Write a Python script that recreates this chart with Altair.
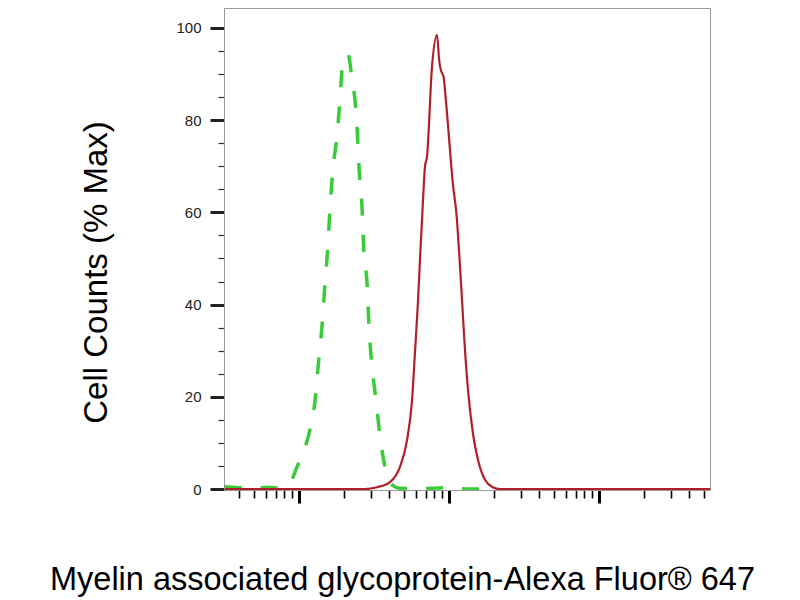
import altair as alt
import pandas as pd

# fluorescence intensity (log axis) and % of max
green_x = [32, 40, 50, 61, 75, 87, 97, 110, 118, 128, 134, 142, 149, 156, 161,
           169, 179, 188, 194, 205, 212, 226, 236, 244, 251, 263, 270, 284, 293,
           307, 326, 347, 374, 404, 471, 641, 940, 1380, 2028]
green_y = [0.5, 0.3, 0.1, 0.4, 0.2, 1.3, 4.8, 9.1, 12.8, 19.3, 26.5, 35, 44.7, 53, 61,
           70, 76.4, 85, 91.3, 93.5, 94.3, 88.7, 84.4, 78, 70, 61, 52, 44.7, 35,
           26.5, 19.3, 11.3, 4.8, 1.3, 0.2, 0.1, 0.3, 0, 0.2]

red_x = [32, 276, 331, 404, 471, 525, 567, 594, 622, 641, 671, 692, 713, 770, 832,
         860, 880, 905, 920, 955, 1063, 1130, 1166, 1221, 1279, 1339, 1445, 1561,
         1738, 1963, 2188, 55000]
red_y = [0, 0, 0.4, 1.5, 4.8, 10.6, 19.3, 30, 41, 50, 62.7, 70, 72, 91.5, 98.5,
         93, 91, 90, 89.4, 84, 66, 58.4, 51.8, 41, 30, 21.5, 12, 6.3,
         2, 0.4, 0, 0]

minor_x = [40, 50, 60, 70, 80, 90, 200, 300, 400, 500, 600, 700, 800, 900,
           2000, 3000, 4000, 5000, 6000, 7000, 8000, 9000, 20000, 30000, 40000, 50000]
major_x = [100, 1000, 10000]
minor_y = [0, 5, 10, 15, 20, 25, 30, 35, 40, 45, 50, 55, 60, 65, 70, 75, 80, 85, 90, 95, 100]
major_y = [0, 20, 40, 60, 80, 100]

green_df = pd.DataFrame({"intensity": green_x, "pct": green_y})
red_df = pd.DataFrame({"intensity": red_x, "pct": red_y})

x_scale = alt.Scale(type="log", domain=[31.6, 55000], nice=False)
y_scale = alt.Scale(domain=[-0.2, 104.3], nice=False, zero=False)

FONT = "Liberation Sans"

green = alt.Chart(green_df).mark_line(
    color="#3ACB3A", strokeWidth=3.5, strokeDash=[17, 19],
    interpolate="monotone", clip=True
).encode(
    x=alt.X("intensity:Q", scale=x_scale,
            axis=alt.Axis(values=minor_x, labels=False, tickSize=8, tickWidth=1.6,
                          tickColor="black", domain=False, grid=False,
                          title=None, orient="bottom")),
    y=alt.Y("pct:Q", scale=y_scale,
            axis=alt.Axis(values=minor_y, labels=False, tickSize=6, tickWidth=1.2,
                          tickColor="#333", domain=False, grid=False,
                          title=None, orient="left")),
)

red = alt.Chart(red_df).mark_line(
    color="#B0202A", strokeWidth=2.2, interpolate="monotone", clip=True
).encode(
    x=alt.X("intensity:Q", scale=x_scale,
            axis=alt.Axis(values=major_x, labels=False, tickSize=13, tickWidth=3,
                          tickColor="black", domainColor="#999", grid=False,
                          orient="bottom",
                          title="Myelin associated glycoprotein-Alexa Fluor® 647",
                          titleFont=FONT, titleFontSize=32.5, titleFontWeight="normal",
                          titleColor="black", titleX=178, titleY=99,
                          titleAlign="center", titleBaseline="alphabetic")),
    y=alt.Y("pct:Q", scale=y_scale,
            axis=alt.Axis(values=major_y, tickSize=14, tickWidth=3, tickColor="#222",
                          domainColor="#999", grid=False, orient="left",
                          labelFont=FONT, labelFontSize=15, labelColor="#222",
                          labelPadding=9,
                          title="Cell Counts (% Max)",
                          titleFont=FONT, titleFontSize=33, titleFontWeight="normal",
                          titleColor="black", titleAngle=270, titleX=-118, titleY=264,
                          titleAlign="center", titleBaseline="alphabetic")),
)

chart = alt.layer(green, red).resolve_axis(
    x="independent", y="independent"
).properties(
    width=486, height=482,
    autosize=alt.AutoSizeParams(type="none"),
    padding={"left": 216, "top": 0, "right": 60, "bottom": 110},
    background="white",
).configure_view(stroke="#999", strokeWidth=1)

chart.save("out.html", embed_options={"renderer": "svg", "actions": False})
